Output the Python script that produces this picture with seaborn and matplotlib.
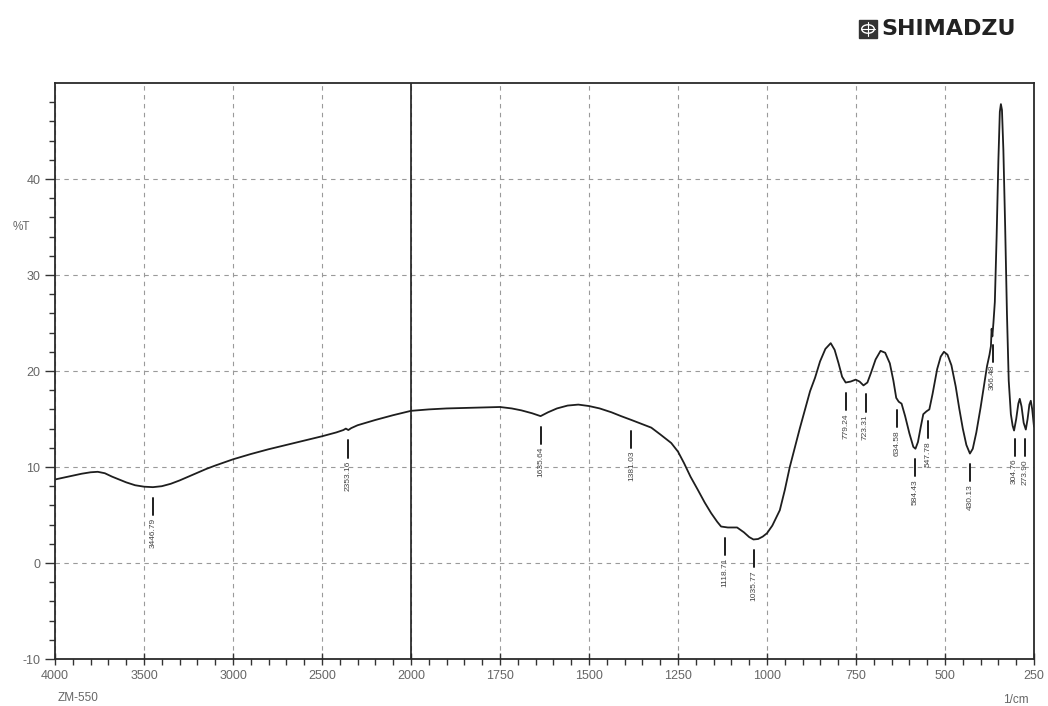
import numpy as np
import matplotlib
matplotlib.use("Agg")
import matplotlib.pyplot as plt
import seaborn as sns
from matplotlib.patches import Rectangle, Circle

# spectrum (wavenumber in 1/cm, %T)
wavenumber = [4000, 3950, 3900, 3850, 3800, 3760, 3720, 3680, 3640, 3600,
              3550, 3500, 3450, 3400, 3350, 3300, 3250, 3200, 3150, 3100,
              3000, 2900, 2800, 2700, 2600, 2500, 2420, 2380, 2366, 2352,
              2336, 2300, 2200, 2100, 2000, 1950, 1900, 1850, 1800, 1750,
              1717, 1690, 1660, 1636, 1615, 1590, 1560, 1530, 1500, 1470,
              1437, 1410, 1381, 1360, 1325, 1300, 1269, 1250, 1233, 1215,
              1194, 1175, 1157, 1140, 1129, 1110, 1084, 1065, 1050, 1038,
              1025, 1012, 1000, 985, 964, 950, 936, 922, 908, 893,
              879, 865, 851, 836, 821, 810, 799, 789, 779, 765,
              751, 740, 729, 718, 708, 695, 681, 668, 655, 645,
              637, 630, 622, 612, 600, 589, 583, 576, 568, 561,
              552, 544, 535, 522, 512, 503, 493, 482, 470, 460,
              450, 440, 430, 422, 412, 400, 390, 382, 375, 371,
              369, 367, 364, 360, 355, 350, 346, 343, 340, 336,
              331, 326, 321, 315, 310, 306, 300, 294, 290, 285,
              279, 273, 268, 263, 259, 255, 250]
transmittance = [8.7, 8.9, 9.1, 9.3, 9.45, 9.5, 9.35, 9.0, 8.7, 8.4,
                 8.1, 7.95, 7.9, 8.0, 8.25, 8.6, 9.0, 9.4, 9.8, 10.15,
                 10.8, 11.35, 11.85, 12.3, 12.75, 13.2, 13.6, 13.85, 14.0, 13.85,
                 14.05, 14.35, 14.9, 15.4, 15.85, 16.0, 16.1, 16.15, 16.2, 16.25,
                 16.1, 15.9, 15.6, 15.3, 15.7, 16.1, 16.4, 16.5, 16.35, 16.1,
                 15.7, 15.3, 14.9, 14.6, 14.1, 13.4, 12.5, 11.6, 10.4, 9.0,
                 7.6, 6.3, 5.2, 4.3, 3.8, 3.7, 3.7, 3.2, 2.7, 2.45,
                 2.5, 2.75, 3.1, 3.9, 5.5, 7.6, 10.0, 12.0, 14.0, 16.0,
                 17.9, 19.3, 21.0, 22.3, 22.9, 22.2, 20.8, 19.4, 18.8, 18.9,
                 19.1, 18.9, 18.5, 18.8, 19.8, 21.2, 22.1, 21.9, 20.8, 19.0,
                 17.2, 16.8, 16.6, 15.3, 13.5, 12.1, 11.9, 12.6, 14.2, 15.5,
                 15.8, 16.0, 17.6, 20.2, 21.5, 22.0, 21.7, 20.6, 18.4, 16.1,
                 14.0, 12.3, 11.4, 11.9, 13.6, 16.2, 18.6, 20.5, 21.7, 22.6,
                 24.4, 23.6, 25.0, 27.2, 34.0, 42.0, 47.0, 47.8, 47.2, 43.0,
                 35.0, 26.0, 19.0, 15.5, 14.3, 13.8, 15.0, 16.6, 17.1, 16.3,
                 14.6, 13.9, 15.0, 16.5, 16.9, 16.0, 14.2]

peak_labels = ["3446.79", "2353.16", "1635.64", "1381.03", "1118.71", "1035.77",
               "779.24", "723.31", "634.58", "584.43", "547.78", "430.13",
               "366.48", "304.76", "273.90"]

x_major = [4000, 3500, 3000, 2500, 2000, 1750, 1500, 1250, 1000, 750, 500, 250]
y_major = [-10, 0, 10, 20, 30, 40]


# axis is 500 per division above 2000 and 250 per division below
def fwd(w):
    w = np.asarray(w, dtype=float)
    return np.where(w >= 2000, (w - 2000) / 500, (w - 2000) / 250)


def inv(p):
    p = np.asarray(p, dtype=float)
    return np.where(p >= 0, 2000 + 500 * p, 2000 + 250 * p)


sns.set_style("white")
plt.rcParams['font.family'] = ['Liberation Sans Narrow', 'Liberation Sans', 'DejaVu Sans']
plt.rcParams['axes.unicode_minus'] = False

fig = plt.figure(figsize=(10.48, 7.06), dpi=100)
ax = fig.add_axes([55 / 1048, 47 / 706, 979 / 1048, 576 / 706])
ax.set_xscale('function', functions=(fwd, inv))

sns.lineplot(x=wavenumber, y=transmittance, ax=ax, color='#1e1e1e', lw=1.3)

ax.set_xlim(4000, 250)
ax.set_ylim(-10, 50)
ax.axvline(2000, color='#1e1e1e', lw=1.2)

ax.set_xticks(x_major)
ax.set_xticklabels([str(v) for v in x_major])
minor = [v for v in range(3900, 2000, -100) if v % 500] + [v for v in range(1950, 250, -50) if v % 250]
ax.set_xticks(minor, minor=True)
ax.set_yticks(y_major)
ax.set_yticks(np.arange(-10, 50, 2), minor=True)

ax.grid(True, which='major', ls=(0, (4, 4)), color='#9a9a9a', lw=0.8)
ax.grid(False, which='minor')
ax.tick_params(which='both', bottom=True, left=True, top=False, right=False)
ax.tick_params(axis='x', which='major', direction='inout', length=9, width=1, colors='#333',
               labelcolor='#666', labelsize=9)
ax.tick_params(axis='x', which='minor', direction='out', length=4, width=1, colors='#333')
ax.tick_params(axis='y', which='major', direction='out', length=7, width=1, colors='#333',
               labelcolor='#666', labelsize=9)
ax.tick_params(axis='y', which='minor', direction='out', length=4, width=1, colors='#333')
ax.set_xlabel('')
ax.set_ylabel('')
for s in ax.spines.values():
    s.set_color('#2a2a2a')
    s.set_linewidth(1.3)

# peak pick markers
wn_up = np.array(wavenumber[::-1], dtype=float)
t_up = np.array(transmittance[::-1], dtype=float)
for lbl in peak_labels:
    w = float(lbl)
    yc = np.interp(w, wn_up, t_up)
    ax.plot([w, w], [yc - 1.1, yc - 2.9], color='#1e1e1e', lw=1.4)
    ax.text(w, yc - 3.2, lbl, rotation=90, ha='center', va='top', fontsize=6, color='#444')

fig.text(58 / 1048, 1 - 698 / 706, "ZM-550", fontsize=8.5, color='#666', va='center')
fig.text(1003 / 1048, 1 - 700 / 706, "1/cm", fontsize=8.5, color='#666', va='center')
fig.text(13 / 1048, 1 - 227 / 706, "%T", fontsize=8.5, color='#666', va='center')

# SHIMADZU mark
bx, by, bw, bh = 859 / 1048, 1 - 38 / 706, 18 / 1048, 18 / 706
fig.patches.append(Rectangle((bx, by), bw, bh, transform=fig.transFigure,
                             facecolor='#333', edgecolor='#333'))
fig.patches.append(Circle((bx + bw / 2, by + bh / 2), 0.006, transform=fig.transFigure,
                          facecolor='none', edgecolor='white', lw=1))
fig.lines.append(plt.Line2D([bx + bw / 2, bx + bw / 2], [by + 0.003, by + bh - 0.003],
                            transform=fig.transFigure, color='white', lw=0.8))
fig.lines.append(plt.Line2D([bx + 0.002, bx + bw - 0.002], [by + bh / 2, by + bh / 2],
                            transform=fig.transFigure, color='white', lw=0.8))
fig.text(881 / 1048, 1 - 29 / 706, "SHIMADZU", fontsize=16, fontweight='heavy',
         color='#222', va='center', family=['DejaVu Sans'])

fig.savefig("out.png", dpi=100)
